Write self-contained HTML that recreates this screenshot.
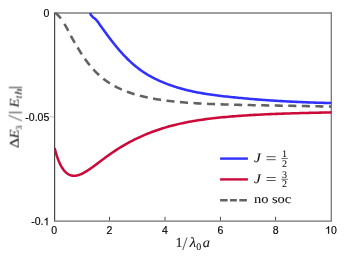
<!DOCTYPE html>
<html><head><meta charset="utf-8"><title>plot</title>
<style>
html,body{margin:0;padding:0;background:#fff;}
body{width:346px;height:260px;overflow:hidden;}
svg{display:block;}
.tick{font-family:"Liberation Sans",sans-serif;font-size:10.5px;fill:#000;stroke:#000;stroke-width:0.15px;}
.ser{font-family:"Liberation Serif",serif;fill:#111;text-rendering:geometricPrecision;}
.ser text{stroke:#111;stroke-width:0.06px;}
</style></head><body>
<svg width="346" height="260" viewBox="0 0 346 260">
<defs><filter id="gs" x="-5%" y="-5%" width="110%" height="110%" color-interpolation-filters="sRGB"><feColorMatrix type="saturate" values="0"/></filter>
<clipPath id="cp"><rect x="54.6" y="12.4" width="277.4" height="209"/></clipPath></defs>
<rect width="346" height="260" fill="#fff"/>
<!-- axes box: top/right light, left/bottom dark -->
<g fill="none">
<path d="M54.6 13.1 H332.0" stroke="#7f7f7f" stroke-width="1.5"/>
<path d="M331.3 12.4 V220.9" stroke="#787878" stroke-width="1.3"/>
<path d="M54.6 12.4 V220.9" stroke="#484848" stroke-width="1.2"/><path d="M54.0 221.05 H331.9" stroke="#707070" stroke-width="1.35"/>
</g>
<g stroke="#3a3a3a" stroke-width="0.9"><line x1="109.50" y1="220.50" x2="109.50" y2="216.80"/><line x1="165.00" y1="220.50" x2="165.00" y2="216.80"/><line x1="220.50" y1="220.50" x2="220.50" y2="216.80"/><line x1="275.55" y1="220.50" x2="275.55" y2="216.80"/></g>
<line x1="49.4" y1="116.9" x2="54.1" y2="116.9" stroke="#c4c4c4" stroke-width="1"/>
<!-- curves -->
<g fill="none" stroke-width="2.55" stroke-linejoin="round" clip-path="url(#cp)">
<path d="M54.80 12.90 L55.30 13.12 L55.81 13.41 L56.31 13.74 L56.82 14.12 L57.32 14.55 L57.83 15.02 L58.33 15.53 L58.83 16.07 L59.34 16.65 L59.84 17.26 L60.35 17.90 L60.85 18.57 L61.35 19.26 L61.86 19.98 L62.36 20.71 L62.87 21.47 L63.37 22.25 L63.88 23.05 L64.38 23.86 L64.88 24.69 L65.39 25.54 L65.89 26.41 L66.40 27.30 L66.90 28.21 L67.41 29.13 L67.91 30.08 L68.41 31.05 L68.92 32.04 L69.42 33.03 L69.93 34.02 L70.43 34.99 L70.93 35.95 L71.44 36.89 L71.94 37.81 L72.45 38.71 L72.95 39.61 L73.46 40.49 L73.96 41.36 L74.46 42.23 L74.97 43.09 L75.47 43.96 L75.98 44.81 L76.48 45.67 L76.98 46.52 L77.49 47.36 L77.99 48.20 L78.50 49.03 L79.00 49.85 L79.51 50.67 L80.01 51.48 L80.51 52.27 L81.02 53.07 L81.52 53.85 L82.03 54.62 L82.53 55.38 L83.04 56.14 L83.54 56.88 L84.04 57.61 L84.55 58.34 L85.05 59.05 L85.56 59.75 L86.06 60.45 L86.56 61.13 L87.07 61.81 L87.57 62.47 L88.08 63.13 L88.58 63.77 L89.09 64.41 L89.59 65.03 L90.09 65.65 L90.60 66.25 L91.10 66.85 L91.61 67.43 L92.11 68.01 L92.62 68.58 L93.12 69.14 L93.62 69.69 L94.13 70.23 L94.63 70.77 L95.14 71.29 L95.64 71.81 L96.14 72.31 L96.65 72.81 L97.15 73.30 L97.66 73.79 L98.16 74.26 L98.67 74.73 L99.17 75.19 L99.67 75.64 L100.18 76.09 L100.68 76.52 L101.19 76.95 L101.69 77.38 L102.19 77.79 L102.70 78.20 L103.20 78.60 L103.71 79.00 L104.21 79.39 L104.72 79.77 L105.22 80.14 L105.72 80.51 L106.23 80.87 L106.73 81.23 L107.24 81.58 L107.74 81.92 L108.25 82.26 L108.75 82.60 L109.25 82.92 L109.76 83.25 L110.26 83.56 L110.77 83.88 L111.27 84.18 L111.77 84.48 L112.28 84.78 L112.78 85.07 L113.29 85.36 L113.79 85.64 L114.30 85.92 L114.80 86.20 L116.99 87.34 L119.18 88.41 L121.36 89.41 L123.55 90.34 L125.74 91.22 L127.93 92.04 L130.12 92.81 L132.30 93.54 L134.49 94.22 L136.68 94.86 L138.87 95.46 L141.05 96.02 L143.24 96.56 L145.43 97.06 L147.62 97.53 L149.81 97.98 L151.99 98.40 L154.18 98.80 L156.37 99.17 L158.56 99.52 L160.75 99.86 L162.93 100.17 L165.12 100.47 L167.31 100.75 L169.50 101.01 L171.68 101.26 L173.87 101.50 L176.06 101.72 L178.25 101.93 L180.44 102.13 L182.62 102.31 L184.81 102.49 L187.00 102.66 L189.19 102.81 L191.38 102.96 L193.56 103.10 L195.75 103.23 L197.94 103.36 L200.13 103.48 L202.32 103.59 L204.50 103.70 L206.69 103.80 L208.88 103.90 L211.07 103.99 L213.25 104.07 L215.44 104.16 L217.63 104.24 L219.82 104.31 L222.01 104.38 L224.19 104.45 L226.38 104.52 L228.57 104.58 L230.76 104.64 L232.95 104.70 L235.13 104.76 L237.32 104.81 L239.51 104.86 L241.70 104.91 L243.88 104.96 L246.07 105.01 L248.26 105.06 L250.45 105.10 L252.64 105.15 L254.82 105.19 L257.01 105.23 L259.20 105.27 L261.39 105.31 L263.58 105.35 L265.76 105.39 L267.95 105.43 L270.14 105.47 L272.33 105.51 L274.52 105.55 L276.70 105.59 L278.89 105.62 L281.08 105.66 L283.27 105.70 L285.45 105.74 L287.64 105.78 L289.83 105.81 L292.02 105.85 L294.21 105.89 L296.39 105.93 L298.58 105.97 L300.77 106.01 L302.96 106.05 L305.15 106.09 L307.33 106.13 L309.52 106.17 L311.71 106.21 L313.90 106.25 L316.08 106.29 L318.27 106.33 L320.46 106.38 L322.65 106.42 L324.84 106.46 L327.02 106.51 L329.21 106.55 L331.40 106.60" stroke="#626262" stroke-dasharray="8.4 6.3 8.1 5.45 8.1 5.45 8.1 5.45 8.1 5.45 8.1 5.45 8.1 5.45 8.1 5.45 8.1 5.45 8.1 5.45 8.1 5.45 8.1 5.45 8.1 5.45 8.1 5.45 8.1 5.45 8.1 5.45 8.1 5.45 8.1 5.45 8.1 5.45 8.1 5.45 8.1 5.45 8.1 5.45 8.1 5.45 8.1 5.45 8.1 5.45 8.1 5.45 8.1 5.45 8.1 5.45 8.1 5.45 8.1 5.45 8.1 5.45 8.1 5.45 8.1 5.45 8.1 5.45 8.1 5.45 8.1 5.45 8.1 5.45 8.1 5.45 8.1 5.45 8.1 5.45 8.1 5.45"/>
<path d="M90.20 12.89 L90.38 13.47 L90.56 14.03 L90.76 14.56 L91.01 15.08 L91.50 15.60 L91.98 16.11 L92.46 16.64 L92.94 17.17 L93.63 17.72 L94.38 18.28 L95.15 18.87 L95.86 19.47 L96.39 20.09 L96.92 20.72 L97.45 21.36 L97.95 22.02 L98.42 22.68 L98.88 23.35 L99.34 24.03 L99.80 24.72 L100.29 25.40 L100.79 26.09 L101.30 26.79 L101.80 27.48 L102.31 28.18 L102.81 28.88 L103.31 29.57 L103.82 30.27 L104.32 30.97 L104.83 31.66 L105.33 32.36 L105.83 33.05 L106.34 33.74 L106.84 34.42 L107.35 35.11 L107.85 35.79 L108.36 36.47 L108.86 37.14 L109.36 37.81 L109.87 38.48 L110.37 39.14 L110.88 39.80 L111.38 40.46 L111.88 41.11 L112.39 41.76 L112.89 42.40 L113.40 43.04 L113.90 43.67 L114.41 44.30 L114.91 44.93 L115.41 45.55 L115.92 46.17 L116.42 46.78 L116.93 47.39 L117.43 47.99 L117.94 48.59 L118.44 49.19 L118.94 49.77 L119.45 50.36 L119.95 50.94 L120.46 51.51 L120.96 52.08 L121.46 52.64 L121.97 53.20 L122.47 53.75 L122.98 54.30 L123.48 54.84 L123.99 55.38 L124.49 55.91 L124.99 56.44 L125.50 56.96 L126.00 57.47 L126.51 57.98 L127.01 58.49 L127.52 58.99 L128.02 59.48 L128.52 59.97 L129.03 60.45 L129.53 60.93 L130.04 61.40 L130.54 61.87 L131.04 62.33 L131.55 62.78 L132.05 63.23 L132.56 63.68 L133.06 64.12 L133.57 64.55 L134.07 64.98 L134.57 65.41 L135.08 65.83 L135.58 66.24 L136.09 66.65 L136.59 67.06 L137.09 67.46 L137.60 67.85 L138.10 68.24 L138.61 68.62 L139.11 69.00 L139.62 69.38 L140.12 69.75 L140.62 70.12 L141.13 70.48 L141.63 70.83 L142.14 71.18 L142.64 71.53 L143.15 71.87 L143.65 72.21 L144.15 72.54 L144.66 72.87 L145.16 73.20 L145.67 73.52 L146.17 73.83 L146.67 74.14 L147.18 74.45 L147.68 74.75 L148.19 75.05 L148.69 75.35 L149.20 75.64 L149.70 75.92 L151.54 76.94 L153.37 77.90 L155.21 78.82 L157.04 79.71 L158.88 80.55 L160.71 81.37 L162.55 82.15 L164.38 82.91 L166.22 83.64 L168.05 84.33 L169.89 85.00 L171.72 85.65 L173.56 86.27 L175.39 86.87 L177.23 87.44 L179.07 87.99 L180.90 88.52 L182.74 89.02 L184.57 89.51 L186.41 89.97 L188.24 90.42 L190.08 90.85 L191.91 91.26 L193.75 91.65 L195.58 92.03 L197.42 92.39 L199.25 92.73 L201.09 93.06 L202.93 93.38 L204.76 93.68 L206.60 93.97 L208.43 94.26 L210.27 94.53 L212.10 94.79 L213.94 95.04 L215.77 95.28 L217.61 95.52 L219.44 95.75 L221.28 95.97 L223.11 96.19 L224.95 96.40 L226.78 96.60 L228.62 96.81 L230.46 97.00 L232.29 97.19 L234.13 97.38 L235.96 97.56 L237.80 97.74 L239.63 97.92 L241.47 98.10 L243.30 98.27 L245.14 98.43 L246.97 98.60 L248.81 98.76 L250.64 98.92 L252.48 99.07 L254.32 99.22 L256.15 99.37 L257.99 99.52 L259.82 99.66 L261.66 99.80 L263.49 99.93 L265.33 100.07 L267.16 100.20 L269.00 100.32 L270.83 100.45 L272.67 100.57 L274.50 100.69 L276.34 100.80 L278.17 100.92 L280.01 101.02 L281.85 101.13 L283.68 101.24 L285.52 101.34 L287.35 101.44 L289.19 101.53 L291.02 101.63 L292.86 101.72 L294.69 101.81 L296.53 101.89 L298.36 101.98 L300.20 102.06 L302.03 102.13 L303.87 102.21 L305.71 102.28 L307.54 102.36 L309.38 102.42 L311.21 102.49 L313.05 102.55 L314.88 102.62 L316.72 102.68 L318.55 102.73 L320.39 102.79 L322.22 102.84 L324.06 102.89 L325.89 102.94 L327.73 102.99 L329.56 103.03 L331.40 103.07" stroke="#3030ff"/>
<path d="M54.60 148.03 L55.10 149.98 L55.61 151.81 L56.11 153.53 L56.62 155.16 L57.12 156.69 L57.63 158.13 L58.13 159.49 L58.63 160.77 L59.14 161.97 L59.64 163.10 L60.15 164.16 L60.65 165.16 L61.15 166.10 L61.66 166.98 L62.16 167.80 L62.67 168.57 L63.17 169.29 L63.68 169.96 L64.18 170.58 L64.68 171.16 L65.19 171.70 L65.69 172.20 L66.20 172.66 L66.70 173.08 L67.21 173.46 L67.71 173.81 L68.21 174.13 L68.72 174.42 L69.22 174.67 L69.73 174.90 L70.23 175.09 L70.73 175.26 L71.24 175.41 L71.74 175.53 L72.25 175.62 L72.75 175.69 L73.26 175.74 L73.76 175.77 L74.26 175.77 L74.77 175.76 L75.27 175.73 L75.78 175.67 L76.28 175.60 L76.78 175.51 L77.29 175.40 L77.79 175.28 L78.30 175.14 L78.80 174.99 L79.31 174.82 L79.81 174.63 L80.31 174.43 L80.82 174.22 L81.32 174.00 L81.83 173.77 L82.33 173.53 L82.84 173.27 L83.34 173.01 L83.84 172.74 L84.35 172.46 L84.85 172.18 L85.36 171.88 L85.86 171.58 L86.36 171.27 L86.87 170.96 L87.37 170.64 L87.88 170.31 L88.38 169.98 L88.89 169.65 L89.39 169.31 L89.89 168.97 L90.40 168.62 L90.90 168.27 L91.41 167.91 L91.91 167.56 L92.42 167.20 L92.92 166.83 L93.42 166.47 L93.93 166.10 L94.43 165.73 L94.94 165.36 L95.44 164.98 L95.94 164.61 L96.45 164.23 L96.95 163.86 L97.46 163.48 L97.96 163.10 L98.47 162.72 L98.97 162.34 L99.47 161.96 L99.98 161.58 L100.48 161.20 L100.99 160.82 L101.49 160.44 L101.99 160.06 L102.50 159.69 L103.00 159.31 L103.51 158.93 L104.01 158.56 L104.52 158.19 L105.02 157.81 L105.52 157.44 L106.03 157.07 L106.53 156.71 L107.04 156.34 L107.54 155.98 L108.05 155.61 L108.55 155.25 L109.05 154.89 L109.56 154.54 L110.06 154.18 L110.57 153.83 L111.07 153.48 L111.57 153.13 L112.08 152.78 L112.58 152.44 L113.09 152.09 L113.59 151.75 L114.10 151.42 L114.60 151.08 L116.79 149.65 L118.98 148.26 L121.17 146.91 L123.36 145.60 L125.55 144.34 L127.74 143.11 L129.93 141.92 L132.12 140.78 L134.31 139.66 L136.50 138.59 L138.69 137.55 L140.88 136.55 L143.07 135.58 L145.26 134.64 L147.45 133.74 L149.64 132.87 L151.83 132.03 L154.02 131.22 L156.21 130.44 L158.40 129.69 L160.59 128.97 L162.78 128.28 L164.97 127.61 L167.16 126.97 L169.35 126.35 L171.54 125.76 L173.73 125.19 L175.92 124.65 L178.11 124.12 L180.30 123.63 L182.49 123.15 L184.68 122.69 L186.87 122.26 L189.06 121.84 L191.25 121.44 L193.44 121.06 L195.63 120.70 L197.82 120.35 L200.01 120.01 L202.20 119.69 L204.39 119.38 L206.58 119.09 L208.77 118.81 L210.96 118.54 L213.15 118.28 L215.34 118.03 L217.53 117.79 L219.72 117.56 L221.91 117.34 L224.09 117.13 L226.28 116.92 L228.47 116.73 L230.66 116.54 L232.85 116.36 L235.04 116.19 L237.23 116.02 L239.42 115.86 L241.61 115.70 L243.80 115.56 L245.99 115.41 L248.18 115.28 L250.37 115.14 L252.56 115.02 L254.75 114.89 L256.94 114.77 L259.13 114.66 L261.32 114.55 L263.51 114.44 L265.70 114.34 L267.89 114.24 L270.08 114.14 L272.27 114.05 L274.46 113.96 L276.65 113.88 L278.84 113.79 L281.03 113.71 L283.22 113.64 L285.41 113.56 L287.60 113.49 L289.79 113.42 L291.98 113.35 L294.17 113.28 L296.36 113.22 L298.55 113.15 L300.74 113.09 L302.93 113.03 L305.12 112.98 L307.31 112.92 L309.50 112.87 L311.69 112.81 L313.88 112.76 L316.07 112.71 L318.26 112.66 L320.45 112.62 L322.64 112.57 L324.83 112.52 L327.02 112.48 L329.21 112.44 L331.40 112.39" stroke="#cc0a3a"/>
</g>
<!-- tick labels -->
<g class="tick" filter="url(#gs)"><text x="54.10" y="233.8" text-anchor="middle">0</text><text x="109.50" y="233.8" text-anchor="middle">2</text><text x="165.00" y="233.8" text-anchor="middle">4</text><text x="220.50" y="233.8" text-anchor="middle">6</text><text x="275.55" y="233.8" text-anchor="middle">8</text><path d="M329.07 233.80 L328.14 233.80 L328.14 227.92 L327.26 228.58 L326.31 229.04 L326.31 228.15 L327.58 227.34 L328.47 226.25 L329.07 226.25Z"/><text x="331.0" y="233.8">0</text>
<text x="49.3" y="16.7" text-anchor="end">0</text>
<text x="49.3" y="120.7" text-anchor="end">-0.05</text>
<text x="43.56" y="225.2" text-anchor="end">-0.</text><path d="M47.47 225.20 L46.54 225.20 L46.54 219.32 L45.66 219.98 L44.71 220.44 L44.71 219.55 L45.98 218.74 L46.87 217.65 L47.47 217.65Z"/>
</g>
<!-- legend -->
<g fill="none" stroke-width="2.4">
<line x1="220.1" y1="158.6" x2="247.9" y2="158.6" stroke="#3030ff"/>
<line x1="220.1" y1="179.4" x2="247.9" y2="179.4" stroke="#cc0a3a"/>
<line x1="220.1" y1="200.3" x2="246.9" y2="200.3" stroke="#626262" stroke-dasharray="7.5 2.4 6.9 2.4 7.7 9"/>
</g>
<g class="ser" filter="url(#gs)">
<text x="254.0" y="162.0" font-size="13" font-style="italic" textLength="6.9" lengthAdjust="spacingAndGlyphs">J</text><path d="M266.5 156.7 h9.2 M266.5 159.7 h9.2" stroke="#111" stroke-width="0.7" fill="none"/><text x="284.6" y="157" font-size="10" text-anchor="middle">1</text><line x1="281.4" y1="158.5" x2="287.8" y2="158.5" stroke="#111" stroke-width="0.6"/><text x="284.6" y="167" font-size="10" text-anchor="middle">2</text>
<text x="254.0" y="182.8" font-size="13" font-style="italic" textLength="6.9" lengthAdjust="spacingAndGlyphs">J</text><path d="M266.5 177.5 h9.2 M266.5 180.5 h9.2" stroke="#111" stroke-width="0.7" fill="none"/><text x="284.6" y="178" font-size="10" text-anchor="middle">3</text><line x1="281.4" y1="179.3" x2="287.8" y2="179.3" stroke="#111" stroke-width="0.6"/><text x="284.6" y="187" font-size="10" text-anchor="middle">2</text>
<text x="253.9" y="203" font-size="12.6" textLength="37.4" lengthAdjust="spacingAndGlyphs">no soc</text>
</g>
<!-- x label -->
<g class="ser" font-size="14" filter="url(#gs)">
<text x="175.6" y="247.4">1</text>
<line x1="182.7" y1="250.1" x2="187.0" y2="237.4" stroke="#111" stroke-width="0.7"/>
<text x="189.6" y="247.4" font-style="italic" textLength="6.7" lengthAdjust="spacingAndGlyphs">λ</text>
<text x="196.3" y="250" font-size="10">0</text>
<text x="202.8" y="247.4" font-style="italic" textLength="7.2" lengthAdjust="spacingAndGlyphs">a</text>
</g>
<!-- y label (rotated) -->
<g class="ser" font-size="13.4" filter="url(#gs)" transform="translate(18.7 148.4) rotate(-90)">
<text x="0.2" y="0" textLength="10.2" lengthAdjust="spacingAndGlyphs">Δ</text>
<text x="10.1" y="0" font-style="italic" textLength="8.9" lengthAdjust="spacingAndGlyphs">E</text>
<text x="18.4" y="2.7" font-size="8.8">3</text>
<line x1="27.5" y1="3.3" x2="33.1" y2="-10.1" stroke="#111" stroke-width="0.7"/>
<line x1="35.9" y1="3.4" x2="35.9" y2="-9.8" stroke="#111" stroke-width="0.85"/>
<text x="41.0" y="0" font-style="italic" textLength="8.9" lengthAdjust="spacingAndGlyphs">E</text>
<text x="50.0" y="2.7" font-size="9.6" font-style="italic">t</text>
<text x="53.4" y="2.7" font-size="9.6" font-style="italic" textLength="6.4" lengthAdjust="spacingAndGlyphs">h</text>
<line x1="60.9" y1="3.4" x2="60.9" y2="-9.8" stroke="#111" stroke-width="0.85"/>
</g>
</svg>
</body></html>
